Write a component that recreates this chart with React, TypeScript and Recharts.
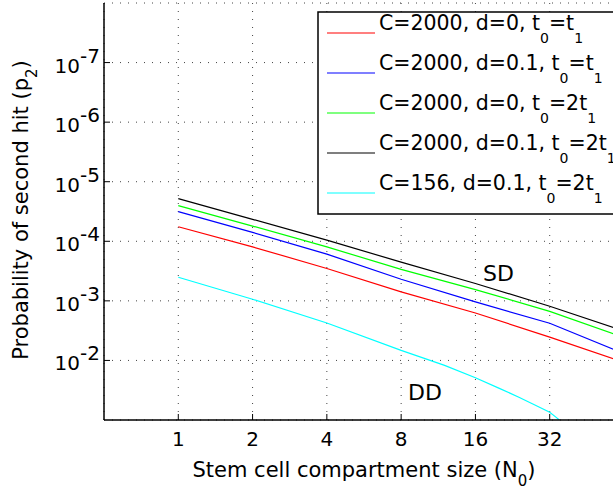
import React from 'react';
import { LineChart, Line, XAxis, YAxis, CartesianGrid, Legend } from 'recharts';

const FONT = '"DejaVu Sans", sans-serif';

// compartment sizes N0 (x) and probabilities p2
const sdSizes = [1, 2, 4, 8, 16, 32, 64];
const redValues = [5.7e-5, 1.24e-4, 2.86e-4, 7.08e-4, 1.6e-3, 4.06e-3, 1.08e-2];
const blueValues = [3.18e-5, 7.08e-5, 1.64e-4, 4.33e-4, 1.04e-3, 2.38e-3, 7.71e-3];
const greenValues = [2.52e-5, 5.55e-5, 1.24e-4, 2.97e-4, 6.46e-4, 1.5e-3, 4.14e-3];
const blackValues = [1.92e-5, 4.28e-5, 9.55e-5, 2.24e-4, 5.12e-4, 1.23e-3, 3.2e-3];
const ddSizes = [1, 2, 4, 8, 12, 16, 20, 24, 28, 32, 34, 35];
const cyanValues = [4.01e-4, 9.4e-4, 2.35e-3, 6.79e-3, 1.21e-2, 1.95e-2, 2.94e-2, 4.15e-2, 5.65e-2, 7.41e-2, 9.04e-2, 0.1];

const xTicks = [1, 2, 4, 8, 16, 32];
const yTicks = [1e-7, 1e-6, 1e-5, 1e-4, 1e-3, 1e-2];

const seriesNames = [
  'C=2000, d=0, t_0=t_1',
  'C=2000, d=0.1, t_0=t_1',
  'C=2000, d=0, t_0=2t_1',
  'C=2000, d=0.1, t_0=2t_1',
  'C=156, d=0.1, t_0=2t_1',
];
const seriesColors = ['#ff0000', '#0000ff', '#00ff00', '#000000', '#00ffff'];

const toPoints = (xs: number[], ys: number[]) => xs.map((n, i) => ({ n, p: ys[i] }));

const series = [
  toPoints(sdSizes, redValues),
  toPoints(sdSizes, blueValues),
  toPoints(sdSizes, greenValues),
  toPoints(sdSizes, blackValues),
  toPoints(ddSizes, cyanValues),
];

// plot frame (px)
const PLOT_LEFT = 104;
const PLOT_TOP = 3;
const PLOT_BOTTOM = 420;

// "t_0" -> t with subscript 0
const withSubs = (label: string, subSize: number, shift: number) => {
  const parts = label.split(/_(.)/);
  const out: React.ReactNode[] = [];
  let lowered = false;
  parts.forEach((part, i) => {
    if (!part) return;
    if (i % 2 === 1) {
      out.push(<tspan key={i} dy={lowered ? 0 : shift} fontSize={subSize}>{part}</tspan>);
      lowered = true;
    } else {
      out.push(<tspan key={i} dy={lowered ? -shift : 0}>{part}</tspan>);
      lowered = false;
    }
  });
  return out;
};

const XTick = (props: any) => {
  const { x, payload } = props;
  return (
    <g>
      <line x1={x} x2={x} y1={PLOT_BOTTOM} y2={PLOT_BOTTOM - 6} stroke="#000" />
      <text x={x} y={446} textAnchor="middle" fontSize={20} fontFamily={FONT} fill="#000">
        {payload.value}
      </text>
    </g>
  );
};

const TopTick = (props: any) => {
  const { x } = props;
  return <line x1={x} x2={x} y1={PLOT_TOP} y2={PLOT_TOP + 6} stroke="#000" />;
};

const YTick = (props: any) => {
  const { y, payload } = props;
  const exp = Math.round(Math.log10(payload.value));
  return (
    <g>
      <line x1={PLOT_LEFT} x2={PLOT_LEFT + 6} y1={y} y2={y} stroke="#000" />
      <text x={100} y={y + 10} textAnchor="end" fontSize={20} fontFamily={FONT} fill="#000">
        10<tspan dy={-10}>{`-${-exp}`}</tspan>
      </text>
    </g>
  );
};

const LegendBox = () => (
  <svg width={300} height={205} style={{ display: 'block' }}>
    <rect x={1} y={1} width={320} height={202} fill="#fff" stroke="#000" strokeWidth={1.5} />
    {seriesNames.map((name, i) => (
      <g key={name}>
        <line x1={10} x2={58} y1={22 + 40 * i} y2={22 + 40 * i} stroke={seriesColors[i]} strokeWidth={1.2} />
        <text x={62} y={19 + 40 * i} fontSize={20.5} fontFamily={FONT} fill="#000">
          {withSubs(name, 14, 13)}
        </text>
      </g>
    ))}
  </svg>
);

export default function App() {
  return (
    <div style={{ position: 'absolute', left: 0, top: 0, width: 613, height: 491, overflow: 'hidden', background: '#fff' }}>
      <LineChart width={640} height={491} margin={{ top: PLOT_TOP, right: 16, bottom: 0, left: 0 }}>
        <CartesianGrid stroke="#444" strokeDasharray="1 7" />
        <XAxis
          dataKey="n"
          type="number"
          scale="log"
          domain={[0.5, 64]}
          ticks={xTicks}
          allowDataOverflow
          height={71}
          axisLine={{ stroke: '#000', strokeWidth: 1.5 }}
          tickLine={false}
          tick={<XTick />}
          interval={0}
        />
        <XAxis
          xAxisId="top"
          orientation="top"
          dataKey="n"
          type="number"
          scale="log"
          domain={[0.5, 64]}
          ticks={xTicks}
          allowDataOverflow
          height={0}
          axisLine={{ stroke: '#000', strokeWidth: 1.5 }}
          tickLine={false}
          tick={<TopTick />}
          interval={0}
        />
        <YAxis
          type="number"
          scale="log"
          domain={[1e-8, 1e-1]}
          reversed
          ticks={yTicks}
          allowDataOverflow
          width={PLOT_LEFT}
          axisLine={{ stroke: '#000', strokeWidth: 1.5 }}
          tickLine={false}
          tick={<YTick />}
          interval={0}
        />
        {series.map((data, i) => (
          <Line
            key={seriesNames[i]}
            data={data}
            dataKey="p"
            name={seriesNames[i]}
            type="linear"
            stroke={seriesColors[i]}
            strokeWidth={1.2}
            dot={false}
            isAnimationActive={false}
          />
        ))}
        <Legend
          layout="vertical"
          align="center"
          verticalAlign="middle"
          content={() => <LegendBox />}
          wrapperStyle={{ position: 'absolute', left: 317, top: 11, width: 300 }}
        />
        <text x={483} y={281} fontSize={22} fontFamily={FONT} fill="#000">SD</text>
        <text x={408} y={400} fontSize={22} fontFamily={FONT} fill="#000">DD</text>
        <text x={364} y={477} textAnchor="middle" fontSize={21} fontFamily={FONT} fill="#000">
          {withSubs('Stem cell compartment size (N_0)', 15, 9)}
        </text>
        <text
          x={28}
          y={210}
          textAnchor="middle"
          transform="rotate(-90, 28, 210)"
          fontSize={21}
          fontFamily={FONT}
          fill="#000"
        >
          {withSubs('Probability of second hit (p_2)', 15, 9)}
        </text>
      </LineChart>
    </div>
  );
}
